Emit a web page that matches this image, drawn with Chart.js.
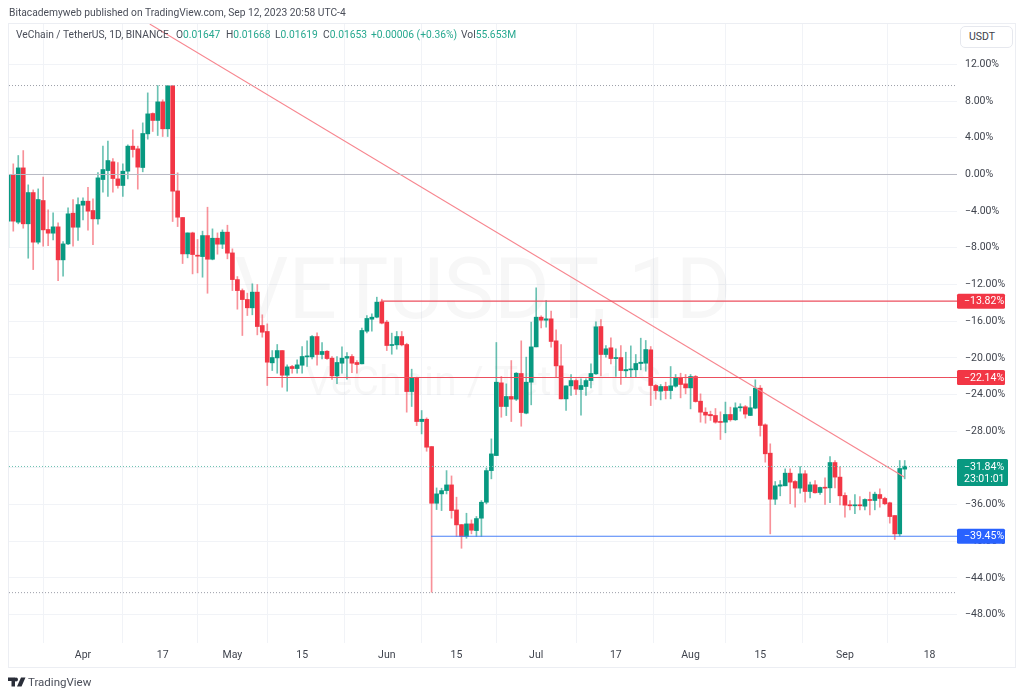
<!DOCTYPE html>
<html>
<head>
<meta charset="utf-8">
<title>VETUSDT</title>
<script src="https://cdn.jsdelivr.net/npm/chart.js@4/dist/chart.umd.js"></script>
<style>
    html, body { margin: 0; padding: 0; background: #fff; }
    body { width: 1024px; height: 697px; position: relative; overflow: hidden; font-family: Roboto, sans-serif; color: #4a4e59; }
    canvas { position: absolute; left: 0; top: 0; }
    .frame { position: absolute; left: 8px; top: 23px; width: 1006px; height: 643px; border: 1px solid #eceef3; }
    .txt { position: absolute; font-size: 10.25px; line-height: 14px; white-space: nowrap; }
    .up { color: #26a88f; }
    .usdt { position: absolute; left: 960px; top: 26px; width: 51px; height: 20px; line-height: 20px; border: 1px solid #e6e8ee; border-radius: 5px; font-size: 10.5px; text-indent: 8px; color: #3c4049; background: #fff; }
    .logo { position: absolute; left: 8px; top: 677px; }
</style>
</head>
<body>
<div class="frame"></div>
<canvas id="chart" width="1024" height="697"></canvas>
<div class="txt" style="left:9px;top:6px">Bitacademyweb published on TradingView.com, Sep 12, 2023 20:58 UTC-4</div>
<div class="txt" style="left:16px;top:28px">VeChain / TetherUS, 1D, BINANCE</div>
<div class="txt" style="left:176px;top:28px">O<span class="up">0.01647</span></div>
<div class="txt" style="left:226px;top:28px">H<span class="up">0.01668</span></div>
<div class="txt" style="left:275px;top:28px">L<span class="up">0.01619</span></div>
<div class="txt" style="left:323px;top:28px">C<span class="up">0.01653</span></div>
<div class="txt up" style="left:371px;top:28px">+0.00006 (+0.36%)</div>
<div class="txt" style="left:461px;top:28px">Vol<span class="up">55.653M</span></div>
<div class="usdt">USDT</div>
<svg class="logo" width="18" height="10" viewBox="0 0 36 20"><path fill="#2a2e39" d="M0 1h14v18H7V8H0zM16 1a4 4 0 1 1 0 8 4 4 0 0 1 0-8zM26 1h9l-8 18h-9z"/></svg>
<div class="txt" style="left:28px;top:675px;font-size:11.5px">TradingView</div>

<script>
// 数据 (percent from first close)
const opens = [
    -5.1,0,-5.2,0.72,-5.38,-1.97,-7.38,-2.84,-6.0,-6.4,
    -5.71,-9.31,-7.57,-4.22,-5.75,-3.35,-2.91,-3.93,-4.84,-0.55,
    0.43,1.38,-0.48,-1.2,0.36,3.09,2.8,0.76,4.43,6.65,
    5.89,7.92,4.98,9.67,-1.79,-4.69,-8.66,-6.37,-8.8,-8.95,
    -6.66,-9.24,-6.95,-7.6,-6.29,-8.55,-11.46,-12.66,-13.63,-14.54,
    -12.83,-16.47,-17.12,-20.54,-20.0,-19.2,-21.89,-20.94,-21.16,-20.8,
    -19.89,-19.89,-17.67,-19.63,-19.27,-20.03,-21.96,-20.58,-20.03,-19.85,
    -20.5,-20.65,-17.09,-15.78,-15.56,-13.89,-16.1,-18.65,-18.58,-17.67,
    -18.54,-23.67,-22.21,-26.94,-26.69,-29.67,-35.85,-34.83,-34.47,-33.85,
    -36.58,-38.18,-39.48,-38.1,-38.83,-37.48,-35.74,-32.29,-30.65,-22.72,
    -25.3,-24.21,-24.5,-21.7,-26.03,-22.65,-18.8,-15.56,-15.89,-15.74,
    -18.14,-20.87,-24.47,-23.05,-22.47,-23.45,-23.12,-22.47,-21.74,-16.58,
    -19.63,-18.9,-20.07,-19.96,-21.41,-21.3,-21.3,-20.61,-20.58,-19.12,
    -23.01,-23.63,-23.12,-23.56,-23.09,-22.18,-22.83,-23.27,-22.03,-24.72,
    -25.92,-26.17,-26.28,-26.93,-27.01,-26.17,-26.75,-25.44,-25.33,-26.28,
    -25.48,-23.3,-27.3,-30.39,-35.41,-33.99,-33.95,-32.57,-33.48,-34.2,
    -32.64,-34.57,-33.84,-34.68,-34.1,-34.17,-31.41,-33.0,-35.0,-36.02,
    -36.1,-36.02,-36.17,-35.44,-35.55,-34.9,-35.33,-35.8,-37.19,-39.19,-32.13
];
const closes = [
    0,-5.09,0.72,-5.38,-1.97,-7.38,-2.73,-6.04,-6.4,-5.71,
    -9.31,-7.57,-4.29,-5.75,-3.28,-2.91,-4.0,-4.84,-0.37,0.54,
    1.52,-0.44,-1.2,0.36,3.09,2.72,0.8,4.47,6.61,5.89,
    7.92,4.98,9.67,-1.82,-4.66,-8.66,-6.37,-8.73,-8.91,-6.66,
    -9.24,-6.95,-7.6,-6.29,-8.58,-11.46,-12.66,-13.64,-14.54,-12.83,
    -16.58,-17.2,-20.47,-19.96,-19.2,-21.89,-20.98,-21.16,-20.76,-19.85,
    -19.78,-17.67,-19.63,-19.3,-20.07,-21.96,-20.5,-20.03,-19.85,-20.58,
    -20.72,-17.01,-15.7,-15.56,-13.92,-16.21,-18.65,-18.54,-17.67,-18.58,
    -23.67,-22.21,-26.94,-26.69,-29.74,-35.85,-34.83,-34.47,-33.85,-36.65,
    -38.21,-39.48,-38.1,-38.79,-37.52,-35.74,-32.29,-30.47,-22.65,-25.3,
    -24.21,-24.5,-21.67,-25.96,-22.65,-18.8,-15.56,-15.89,-15.74,-18.21,
    -20.87,-24.47,-23.05,-22.47,-23.41,-23.01,-22.47,-21.7,-16.61,-19.63,
    -19.01,-20.07,-19.96,-21.38,-21.27,-21.2,-20.61,-20.47,-19.09,-23.01,
    -23.56,-23.12,-23.56,-23.05,-22.18,-22.9,-23.27,-22.03,-24.76,-25.92,
    -26.24,-26.31,-27.01,-27.01,-26.17,-26.75,-25.44,-25.33,-26.13,-25.44,
    -23.3,-27.37,-30.46,-35.41,-33.95,-33.84,-32.57,-33.55,-34.2,-32.64,
    -34.57,-33.84,-34.71,-34.13,-34.17,-31.41,-33.0,-35.04,-36.06,-36.1,
    -36.02,-36.1,-35.44,-35.55,-34.86,-35.33,-35.91,-37.3,-39.19,-32.06,-31.81
];
const highs = [
    0,1.16,2.07,2.61,-1.13,-1.68,-1.57,-0.29,-3.86,-4.18,
    -5.28,-7.31,-3.64,-2.73,-2.55,-2.55,-1.39,-2.66,0.21,3.09,
    3.63,1.74,1.31,1.16,3.23,4.87,3.09,5.63,8.9,6.72,
    9.7,8.14,9.67,9.67,0.18,-4.69,-6.37,-6.29,-7.09,-6.18,
    -3.57,-5.93,-6.37,-6.04,-5.53,-8.11,-11.13,-12.48,-12.94,-11.92,
    -12.0,-15.3,-16.29,-19.2,-18.54,-19.2,-20.76,-20.8,-20.21,-18.76,
    -18.14,-17.56,-17.27,-18.32,-19.2,-19.85,-19.85,-18.8,-19.41,-19.63,
    -20.29,-16.76,-15.38,-15.2,-13.38,-13.6,-15.92,-17.3,-17.12,-17.12,
    -18.4,-21.23,-22.1,-25.74,-26.54,-29.67,-34.18,-34.21,-32.29,-32.87,
    -35.19,-38.18,-36.94,-37.67,-37.3,-35.56,-32.0,-28.83,-18.32,-22.03,
    -22.83,-20.29,-21.6,-18.14,-19.92,-16.1,-12.36,-15.4,-13.74,-14.9,
    -16.94,-18.54,-23.05,-21.81,-22.29,-22.29,-22.29,-20.65,-16.07,-15.81,
    -18.65,-17.81,-19.01,-18.65,-19.38,-18.69,-19.63,-17.85,-18.1,-18.76,
    -22.9,-22.9,-22.65,-20.94,-21.81,-21.67,-21.81,-21.81,-21.92,-23.92,
    -25.44,-25.81,-25.52,-25.88,-24.82,-25.37,-24.9,-25.0,-25.19,-24.21,
    -22.39,-23.01,-27.19,-29.37,-33.48,-33.37,-32.1,-32.1,-33.37,-31.84,
    -32.28,-33.55,-33.37,-34.1,-33.08,-30.75,-31.19,-31.84,-34.71,-35.55,
    -34.9,-35.11,-35.37,-34.64,-34.64,-34.28,-35.19,-35.73,-37.19,-31.19,-31.19
];
const lows = [
    -7.93,-6.18,-5.38,-5.86,-9.13,-10.37,-7.57,-7.82,-7.75,-7.13,
    -11.57,-11.09,-7.64,-7.82,-7.2,-4.95,-6.08,-7.64,-5.42,-1.93,
    -2.4,-1.93,-1.49,-2.4,-0.48,1.89,-1.6,0.29,3.85,4.69,
    4.25,4.14,4.14,-5.13,-5.68,-9.71,-9.09,-10.84,-10.73,-11.2,
    -12.95,-9.31,-8.69,-8.08,-9.2,-12.66,-14.69,-17.56,-15.38,-15.3,
    -17.49,-17.74,-23.01,-21.38,-21.67,-23.2,-23.63,-21.67,-21.67,-21.67,
    -20.94,-20.1,-20.8,-20.1,-20.18,-22.36,-22.8,-21.67,-22.32,-21.6,
    -21.67,-20.65,-17.27,-17.09,-15.63,-16.29,-19.2,-19.6,-19.05,-18.69,
    -25.92,-25.3,-27.38,-28.29,-30.18,-45.56,-36.54,-36.65,-34.83,-37.48,
    -39.48,-40.76,-39.67,-39.19,-39.48,-39.48,-35.92,-33.19,-30.65,-26.47,
    -26.29,-26.94,-24.65,-27.45,-26.1,-25.12,-18.8,-16.72,-16.65,-18.83,
    -22.1,-24.47,-25.74,-24.1,-24.0,-26.25,-24.1,-23.27,-21.81,-21.96,
    -19.92,-20.65,-22.03,-22.9,-22.1,-22.1,-22.1,-21.3,-21.45,-25.2,
    -24.5,-24.58,-24.47,-24.47,-23.2,-24.36,-23.92,-25.56,-24.83,-27.01,
    -27.12,-26.82,-27.12,-28.9,-28.17,-26.9,-26.82,-25.81,-26.57,-26.28,
    -25.55,-28.53,-31.37,-39.19,-35.99,-35.04,-33.95,-35.91,-36.28,-34.75,
    -35.73,-35.26,-34.75,-34.9,-35.99,-35.8,-34.17,-36.02,-37.37,-36.57,
    -37.0,-36.57,-36.57,-37.11,-36.57,-36.28,-36.02,-38.02,-39.8,-39.44,-33.19
];

const xTickBars = [15, 31, 45, 59, 76, 90, 106, 122, 137, 151, 168, 185];
const xTickLabels = ['Apr', '17', 'May', '15', 'Jun', '15', 'Jul', '17', 'Aug', '15', 'Sep', '18'];
const yTicks = [12, 8, 4, 0, -4, -8, -12, -16, -20, -24, -28, -32, -36, -40, -44, -48];

// drawn levels and the falling trend line
const xMin = 0.14, xMax = 190.5;
const trendBars = [28.4, 179.9];
const trendValues = [16.4, -33.0];
const resistanceA = -13.82, resistanceAStart = 74.8;
const resistanceB = -22.14, resistanceBStart = 51.9;
const supportLevel = -39.45, supportStart = 84.9;
const highLevel = 9.7, lowLevel = -45.6, lastLevel = -31.84, zeroLevel = 0;

const UP = '#089981', DOWN = '#f23645', BLUE = '#2962ff';

function fmtPct(v) {
    return (v < 0 ? '\u2212' : '') + Math.abs(v).toFixed(2) + '%';
}

function segment(x0, x1, y) {
    return [{ x: x0, y: y }, { x: x1, y: y }];
}

function lineSet(data, color, dash, width) {
    return {
        type: 'line', data: data, borderColor: color, borderWidth: width || 1, borderDash: dash || [],
        pointRadius: 0, tension: 0, order: 0
    };
}

const wicks = opens.map((o, i) => ({ x: i, y: [lows[i], highs[i]] }));
const bodies = opens.map((o, i) => ({ x: i, y: [o, closes[i]] }));
const isUp = opens.map((o, i) => closes[i] >= o);

// 水印 and the boxes on the price axis
const overlayPlugin = {
    id: 'overlay',
    beforeDatasetsDraw(chart) {
        const { ctx, chartArea } = chart;
        const cx = (chartArea.left + chartArea.right) / 2;
        ctx.save();
        ctx.textAlign = 'center';
        ctx.textBaseline = 'middle';
        ctx.fillStyle = 'rgba(42,46,57,0.04)';
        ctx.font = '85px Roboto';
        ctx.fillText('VETUSDT, 1D', cx, 297);
        ctx.font = '41px Roboto';
        ctx.fillText('VeChain / TetherUS', cx, 385);
        ctx.restore();
    },
    afterDraw(chart) {
        const { ctx, chartArea, scales } = chart;
        const left = chartArea.right;
        const box = (v, color, text, sub) => {
            const y = scales.y.getPixelForValue(v);
            const h = sub ? 27 : 15;
            const w = sub ? 51 : 48;
            ctx.fillStyle = color;
            ctx.beginPath();
            ctx.roundRect(left, y - 7.5, w, h, 1.5);
            ctx.fill();
            ctx.fillStyle = '#fff';
            ctx.font = '10.5px Roboto';
            ctx.textAlign = 'left';
            ctx.textBaseline = 'middle';
            ctx.fillText(text, left + 7, y + 0.5);
            if (sub) ctx.fillText(sub, left + 7, y + 13);
        };
        ctx.save();
        box(resistanceA, DOWN, fmtPct(resistanceA));
        box(resistanceB, DOWN, fmtPct(resistanceB));
        box(lastLevel, UP, fmtPct(lastLevel), '23:01:01');
        box(supportLevel, BLUE, fmtPct(supportLevel));
        ctx.restore();
    }
};

new Chart(document.getElementById('chart').getContext('2d'), {
    type: 'bar',
    plugins: [overlayPlugin],
    data: {
        datasets: [
            lineSet(segment(xMin, xMax, zeroLevel), '#b8b9c4'),
            lineSet(segment(xMin, xMax, highLevel), '#9b9ea8', [1, 2]),
            lineSet(segment(xMin, xMax, lowLevel), '#9b9ea8', [1, 2]),
            lineSet(segment(xMin, xMax, lastLevel), '#6cc2b0', [1, 2]),
            lineSet(segment(resistanceAStart, xMax, resistanceA), '#ec4f5e', [], 1.2),
            lineSet(segment(resistanceBStart, xMax, resistanceB), '#ec4f5e', [], 1.2),
            lineSet(segment(supportStart, xMax, supportLevel), '#4a80f7', [], 1.2),
            lineSet(trendBars.map((b, i) => ({ x: b, y: trendValues[i] })), '#f7868f', [], 1.2),
            {
                data: wicks, grouped: false, barThickness: 1, borderWidth: 0, order: 2,
                backgroundColor: isUp.map(u => u ? 'rgba(8,153,129,0.6)' : 'rgba(242,54,69,0.55)')
            },
            {
                data: bodies, grouped: false, barThickness: 4, borderWidth: 0, minBarLength: 1, order: 1,
                backgroundColor: isUp.map(u => u ? UP : DOWN)
            }
        ]
    },
    options: {
        responsive: false,
        animation: false,
        layout: { padding: { left: 9, top: 24, right: 0, bottom: 0 } },
        plugins: { legend: { display: false }, tooltip: { enabled: false } },
        scales: {
            x: {
                type: 'linear', min: xMin, max: xMax, offset: false,
                grid: { color: '#f1f3f7', drawTicks: false },
                border: { display: false },
                afterBuildTicks(scale) { scale.ticks = xTickBars.map(v => ({ value: v })); },
                afterFit(scale) { scale.height = 54; },
                ticks: {
                    autoSkip: false, maxRotation: 0, padding: 6, color: '#3f434d',
                    font: { family: 'Roboto', size: 10.5 },
                    callback: v => xTickLabels[xTickBars.indexOf(v)]
                }
            },
            y: {
                position: 'right', min: -51.09, max: 16.41,
                grid: { color: '#f1f3f7', drawTicks: false },
                border: { display: false },
                afterBuildTicks(scale) { scale.ticks = yTicks.map(v => ({ value: v })); },
                afterFit(scale) { scale.width = 67; },
                ticks: {
                    padding: 8, color: '#3f434d',
                    font: { family: 'Roboto', size: 10.5 },
                    callback: v => fmtPct(v)
                }
            }
        }
    }
});
</script>
</body>
</html>
